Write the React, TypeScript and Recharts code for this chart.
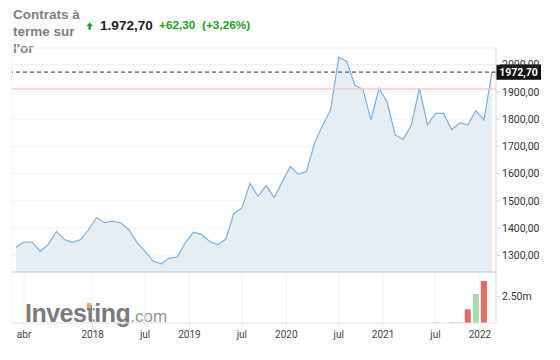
import { AreaChart, Area, BarChart, Bar, Cell, XAxis, YAxis, CartesianGrid, ReferenceLine } from 'recharts'

// monthly closes, mar 2017 .. feb 2022
const price = [
  1330, 1349, 1349, 1315, 1340, 1388, 1358, 1348, 1358, 1394,
  1439, 1420, 1426, 1419, 1394, 1347, 1315, 1279, 1269, 1290,
  1294, 1347, 1385, 1377, 1351, 1340, 1359, 1453, 1474, 1564,
  1517, 1556, 1512, 1570, 1626, 1598, 1608, 1712, 1777, 1834,
  2027, 2012, 1924, 1910, 1797, 1914, 1862, 1742, 1726, 1777,
  1914, 1779, 1821, 1821, 1761, 1786, 1779, 1831, 1797, 1972.7,
]
// volume in millions
const volume = [
  0, 0, 0, 0, 0, 0, 0, 0, 0, 0,
  0, 0, 0, 0, 0, 0, 0, 0, 0, 0,
  0, 0, 0, 0, 0, 0, 0, 0, 0, 0,
  0, 0, 0, 0, 0, 0, 0, 0, 0, 0,
  0, 0, 0, 0, 0, 0, 0, 0, 0, 0,
  0, 0, 0.08, 0, 0.06, 0.1, 1.3, 2.76, 4.0, 0,
]
const tickPos = [1, 9.5, 16, 21.5, 28, 33.5, 40, 45.5, 52, 57.5]
const tickLabels = ['abr', '2018', 'jul', '2019', 'jul', '2020', 'jul', '2021', 'jul', '2022']
const priceTicks = [1300, 1400, 1500, 1600, 1700, 1800, 1900, 2000]
const volTicks = [2.5]
const lastPrice = 1972.7
const prevClose = 1910.4
const change = 62.3
const changePct = 3.26

const comma = (v: number) => v.toFixed(2).replace('.', ',')
const thousands = (v: number) => {
  const [a, b] = v.toFixed(2).split('.')
  return a.replace(/\B(?=(\d{3})+(?!\d))/g, '.') + ',' + b
}

const GREEN = '#22a022'
const axisFont = { fontSize: 10.5, fill: '#333', fontFamily: 'Roboto, sans-serif' }

function PriceTag({ viewBox }: any) {
  if (!viewBox) return null
  const x = viewBox.x + viewBox.width
  const y = viewBox.y
  return (
    <g>
      <rect x={x} y={y - 7.7} width={45} height={15.4} fill="#121212" />
      <text x={x + 22.5} y={y + 3.8} textAnchor="middle" fill="#fff" fontSize={10.5} fontWeight="bold" fontFamily="Roboto, sans-serif">
        {comma(lastPrice)}
      </text>
    </g>
  )
}

export default function App() {
  const data = price.map((p, i) => ({ i, price: p, vol: volume[i] }))

  return (
    <div style={{ position: 'absolute', left: 0, top: 0, width: 560, height: 360, background: '#fff', overflow: 'hidden' }}>
      <svg width={560} height={60} style={{ position: 'absolute', left: 0, top: 0 }} fontFamily='"Liberation Sans", Arial, sans-serif'>
        <g fill="#808080" fontWeight="bold" fontSize={13.5}>
          <text x={13} y={19}>Contrats à</text>
          <text x={13} y={36}>terme sur</text>
          <text x={13} y={53}>l'or</text>
        </g>
        <path d="M89.7 22.5 L93 26.2 L91 26.2 L91 29.5 L88.4 29.5 L88.4 26.2 L86.4 26.2 Z" fill={GREEN} />
        <text x={100} y={29.5} fontSize={13.6} fontWeight="bold" fill="#1e1e1e">{thousands(lastPrice)}</text>
        <text x={159} y={29.3} fontSize={11.8} fontWeight="bold" fill={GREEN}>+{comma(change)}</text>
        <text x={202} y={29.3} fontSize={11.8} fontWeight="bold" fill={GREEN}>(+{comma(changePct)}%)</text>
      </svg>

      <div style={{ position: 'absolute', left: 0, top: 0 }}>
        <AreaChart width={560} height={280} data={data} margin={{ top: 48, right: 0, bottom: 7, left: 12 }}>
          <CartesianGrid stroke="#f1f1f1" />
          <XAxis
            dataKey="i"
            type="number"
            domain={[0, 59]}
            ticks={tickPos}
            padding={{ left: 4, right: 4 }}
            height={1}
            tick={false}
            tickLine={false}
            axisLine={{ stroke: '#c8c8c8', strokeWidth: 1.2 }}
          />
          <YAxis
            orientation="right"
            domain={[1239, 2061]}
            ticks={priceTicks}
            width={64}
            tickSize={4}
            tickMargin={2}
            tick={axisFont}
            tickLine={{ stroke: '#d8d8d8' }}
            axisLine={{ stroke: '#e2e2e2' }}
            tickFormatter={comma}
          />
          <ReferenceLine y={prevClose} stroke="#ffc6c6" strokeWidth={1.5} />
          <Area
            type="linear"
            dataKey="price"
            stroke="#7bb0dc"
            strokeWidth={1.2}
            fill="#e5edf5"
            fillOpacity={1}
            dot={false}
            activeDot={false}
            isAnimationActive={false}
          />
          <ReferenceLine y={lastPrice} stroke="#5a5a5a" strokeDasharray="4 3" strokeWidth={1.2} label={<PriceTag />} />
        </AreaChart>
      </div>

      <div style={{ position: 'absolute', left: 25, top: 298, fontFamily: '"Liberation Sans", Arial, sans-serif', lineHeight: '30px', whiteSpace: 'nowrap' }}>
        <span style={{ fontSize: 25, fontWeight: 'bold', color: '#7b7b7b', letterSpacing: -0.5 }}>Investing</span>
        <span style={{ fontSize: 17, color: '#949494' }}>.com</span>
      </div>
      <div style={{ position: 'absolute', left: 87, top: 302.5, width: 4, height: 5, background: '#f6a55a' }} />

      <div style={{ position: 'absolute', left: 0, top: 272 }}>
        <BarChart width={560} height={88} data={data} margin={{ top: 1, right: 0, bottom: 7, left: 12 }} barSize={6}>
          <CartesianGrid stroke="#f1f1f1" horizontal={false} />
          <XAxis
            dataKey="i"
            type="number"
            domain={[0, 59]}
            ticks={tickPos}
            interval={0}
            padding={{ left: 4, right: 4 }}
            height={30}
            tickSize={4}
            tickMargin={4}
            tick={{ ...axisFont, fontSize: 10, fill: '#444' }}
            tickLine={{ stroke: '#e8e8e8' }}
            axisLine={{ stroke: '#e2e2e2' }}
            tickFormatter={(v: number) => tickLabels[tickPos.indexOf(v)] ?? ''}
          />
          <YAxis
            orientation="right"
            domain={[0, 4.75]}
            ticks={volTicks}
            width={64}
            tickSize={4}
            tickMargin={2}
            tick={axisFont}
            tickLine={{ stroke: '#d8d8d8' }}
            axisLine={{ stroke: '#e2e2e2' }}
            tickFormatter={(v: number) => v.toFixed(2) + 'm'}
          />
          <Bar dataKey="vol" isAnimationActive={false}>
            {data.map((d, i) => (
              <Cell key={i} fill={i > 0 && d.price >= price[i - 1] ? '#a6dbae' : '#e46a6a'} />
            ))}
          </Bar>
        </BarChart>
      </div>
    </div>
  )
}
